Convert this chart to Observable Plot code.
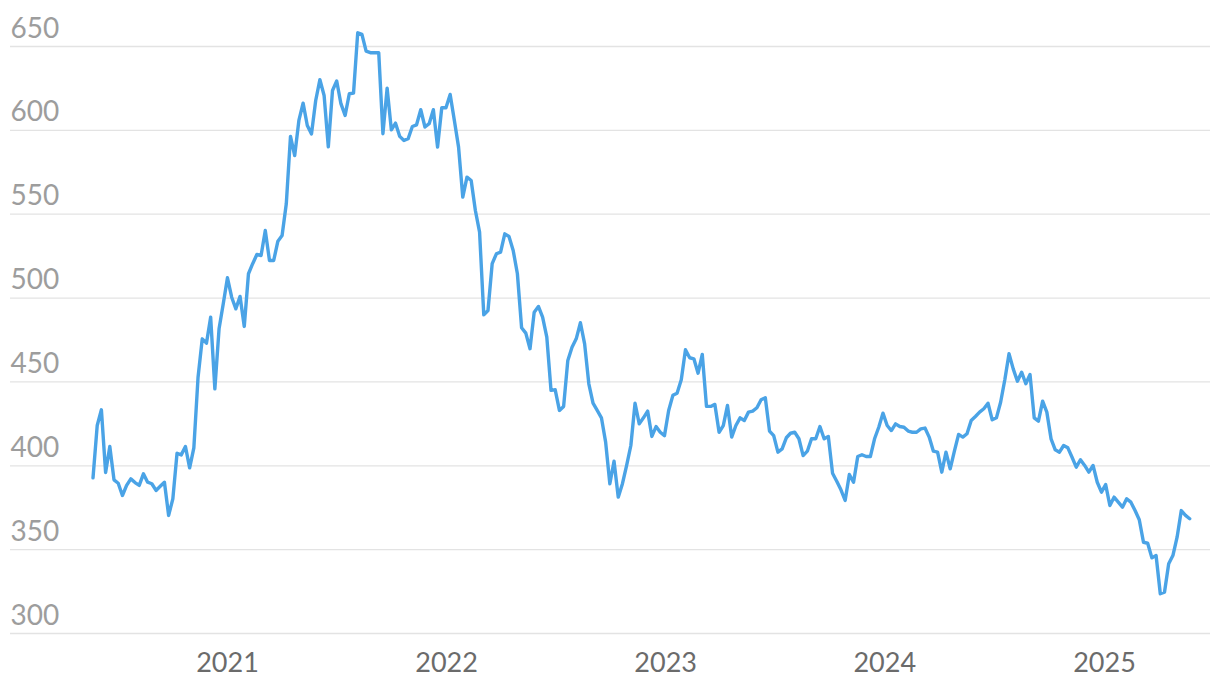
<!DOCTYPE html>
<html>
<head>
<meta charset="utf-8">
<script src="https://cdn.jsdelivr.net/npm/d3@7"></script>
<script src="https://cdn.jsdelivr.net/npm/@observablehq/plot@0.6"></script>
<style>
  html, body { margin: 0; padding: 0; background: #fff; }
  #chart svg { display: block; }
</style>
</head>
<body>
<div id="chart"></div>
<script>
// Weekly closes (Fridays), first week ending 2020-05-22
const firstWeek = "2020-05-22";
const weeklyClose = [
  392.8, 424, 433.4, 396, 411.5, 391.6, 389.6, 382.3, 388.3, 392.2,
  390, 388.3, 395.2, 390.2, 389.3, 385.3, 387.8, 390.2, 370.4, 380.3,
  407.5, 406.5, 411.5, 398.8, 410.7, 452.8, 475.7, 473.1, 488.6, 445.9,
  481.7, 496.6, 512.1, 500.5, 493.6, 501, 483.1, 514.5, 520.5, 526,
  525.4, 540.3, 522.4, 522.4, 533.9, 537.3, 556.2, 596.4, 585, 605.9,
  616.2, 602.9, 597.9, 617.8, 630.2, 620.8, 590.2, 623.8, 629.4, 615.9,
  608.9, 621.8, 622.2, 658.2, 657.2, 647.2, 646.3, 646.3, 646.3, 598,
  625.2, 600.3, 604.3, 596.4, 594, 595, 602.3, 603.3, 612.3, 602,
  604, 612.3, 590, 613.5, 613.5, 621.4, 605.9, 590, 560.2, 572.1,
  570.1, 552.2, 539.3, 490, 492.6, 520.5, 526.4, 527.4, 538.3, 536.7,
  528.4, 514.5, 482.3, 479.1, 469.8, 491.6, 495, 488.6, 476.7, 445,
  445.3, 433, 435.4, 462.8, 470.7, 475.7, 485.3, 472.7, 448.9, 437.3,
  433, 428.6, 414.1, 389.3, 402.7, 381.3, 389.3, 400.2, 412.1, 437.3,
  425, 428.6, 432.6, 417.5, 423.4, 420, 418, 433, 442, 443.3,
  451.3, 469.2, 464.4, 463.8, 455.2, 466.4, 435.4, 435.4, 436.6, 420,
  424, 436, 417.1, 424, 428.6, 427, 432, 432.6, 434.6, 439.4,
  440.6, 420.7, 418, 408.1, 410.1, 416.7, 419.4, 420, 416.1, 406.1,
  408.7, 416.1, 416.1, 423.4, 416.1, 417.5, 395.6, 390.8, 385.7, 379.3,
  394.8, 390.2, 405.5, 406.6, 405.5, 405.5, 416.1, 423, 431.4, 424,
  421, 425, 423.4, 423, 420.7, 420, 420, 422, 422.5, 417.1,
  408.7, 408.1, 396.2, 408.1, 398.2, 408.7, 418.7, 417.1, 419.1, 427,
  429.4, 432, 434, 437.3, 427.4, 428.6, 437.9, 451.3, 466.8, 457.8,
  450.4, 455.8, 448.9, 454.4, 428.6, 426.6, 438.5, 432, 416.1, 409.5,
  408.1, 412.1, 410.7, 405.1, 399.2, 403.6, 400.2, 396.2, 400.2, 390.2,
  384.3, 388.8, 376.3, 381.3, 378.3, 375.3, 380.3, 378.3, 373.3, 367.8,
  354.4, 353.8, 345.1, 346.5, 323.7, 324.6, 341.6, 346.5, 357.4, 373.3,
  370.4, 368.4
];
const yTicks = [300, 350, 400, 450, 500, 550, 600, 650];
const xTickDates = ["2021-01-01", "2022-01-01", "2023-01-01", "2024-01-01", "2025-01-01"];
const xTickLabels = ["2021", "2022", "2023", "2024", "2025"];

const start = new Date(firstWeek + "T00:00:00Z");
const series = weeklyClose.map((v, i) => ({date: d3.utcDay.offset(start, 7 * i), value: v}));
const xTicks = xTickDates.map((d, i) => ({date: new Date(d + "T00:00:00Z"), label: xTickLabels[i]}));

const marginLeft = 92.5, marginRight = 30.8;
const chart = Plot.plot({
  width: 1220,
  height: 690,
  marginLeft,
  marginRight,
  marginTop: 46,
  marginBottom: 57,
  style: {fontFamily: "Lato, 'Open Sans', sans-serif", background: "#fff"},
  x: {type: "utc", domain: [series[0].date, series[series.length - 1].date], axis: null},
  y: {domain: [300, 650], axis: null},
  marks: [
    Plot.ruleY(yTicks, {stroke: "#e3e3e3", strokeWidth: 1.3, insetLeft: -(marginLeft - 10), insetRight: -(1210 - (1220 - marginRight))}),
    Plot.text(yTicks, {y: d => d, text: d => String(d), frameAnchor: "left", textAnchor: "start", lineAnchor: "bottom", dx: -(marginLeft - 10), dy: -9, fontSize: 28, fill: "#9d9d9d"}),
    Plot.text(xTicks, {x: "date", text: "label", frameAnchor: "bottom", lineAnchor: "bottom", dy: 38, fontSize: 27, fill: "#6b6b6b"}),
    Plot.line(series, {x: "date", y: "value", stroke: "#4aa3e6", strokeWidth: 3.4, strokeLinejoin: "round"})
  ]
});
document.getElementById("chart").append(chart);
</script>
</body>
</html>
